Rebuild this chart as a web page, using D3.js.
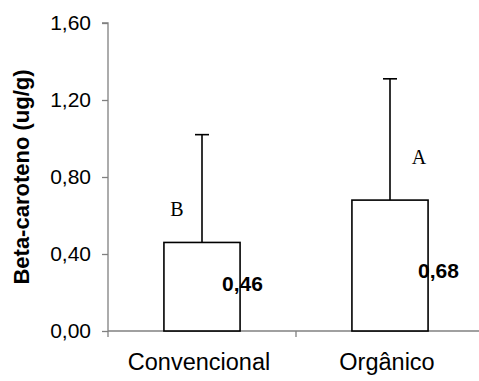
<!DOCTYPE html>
<html>
<head>
<meta charset="utf-8">
<script src="https://cdn.jsdelivr.net/npm/d3@7"></script>
<style>
  body { margin: 0; background: #fff; }
  svg { display: block; font-family: "Liberation Sans", Arial, sans-serif; }
</style>
</head>
<body>
<div id="chart"></div>
<script>
// data
const categories = ["Convencional", "Orgânico"];
const means = [0.46, 0.68];
const sds = [0.56, 0.63];
const letters = ["B", "A"];
const yTicks = [0, 0.4, 0.8, 1.2, 1.6];

const width = 479, height = 381;
const margin = {top: 23, right: -5, bottom: 50, left: 108};

const svg = d3.select("#chart").append("svg")
    .attr("width", width)
    .attr("height", height);

const fmt = v => d3.format(".2f")(v).replace(".", ",");

const x = d3.scaleBand()
    .domain(categories)
    .range([margin.left, width - margin.right])
    .padding(0);

const y = d3.scaleLinear()
    .domain([0, 1.6])
    .range([height - margin.bottom, margin.top]);

const barW = x.bandwidth() * 0.405;
const cx = d => x(d) + x.bandwidth() / 2;

// y axis
const yAxis = svg.append("g")
    .attr("transform", "translate(" + margin.left + ",0)")
    .call(d3.axisLeft(y).tickValues(yTicks).tickFormat(fmt).tickSize(6).tickPadding(11));
yAxis.selectAll("path, line").attr("stroke", "#808080").attr("stroke-width", 1.3);
yAxis.selectAll("text").style("font-size", "21px").attr("fill", "#000");
yAxis.select(".domain").attr("d", "M-6," + y(1.6) + "H0V" + y(0));

// x axis with ticks between categories
const bounds = [margin.left, margin.left + x.bandwidth(), margin.left + 2 * x.bandwidth()];
const xg = svg.append("g");
xg.append("line")
    .attr("x1", margin.left).attr("x2", width)
    .attr("y1", y(0)).attr("y2", y(0))
    .attr("stroke", "#808080").attr("stroke-width", 1.3);
xg.selectAll(".tk").data(bounds).enter().append("line")
    .attr("x1", d => d).attr("x2", d => d)
    .attr("y1", y(0)).attr("y2", y(0) + 6)
    .attr("stroke", "#808080").attr("stroke-width", 1.3);
xg.selectAll(".cat").data(categories).enter().append("text")
    .attr("x", d => cx(d) - 3)
    .attr("y", y(0) + 39)
    .attr("text-anchor", "middle")
    .style("font-size", "23.5px")
    .text(d => d);

// y title
svg.append("text")
    .attr("transform", "translate(29," + ((y(0) + y(1.6)) / 2) + ") rotate(-90)")
    .attr("text-anchor", "middle")
    .style("font-size", "22px")
    .style("font-weight", "bold")
    .text("Beta-caroteno (ug/g)");

// error bars
const eb = svg.selectAll(".err").data(categories).enter().append("g");
eb.append("line")
    .attr("x1", d => cx(d)).attr("x2", d => cx(d))
    .attr("y1", (d, i) => y(means[i])).attr("y2", (d, i) => y(means[i] + sds[i]))
    .attr("stroke", "#000").attr("stroke-width", 1.6);
eb.append("line")
    .attr("x1", d => cx(d) - 7).attr("x2", d => cx(d) + 7)
    .attr("y1", (d, i) => y(means[i] + sds[i])).attr("y2", (d, i) => y(means[i] + sds[i]))
    .attr("stroke", "#000").attr("stroke-width", 1.6);

// bars
svg.selectAll(".bar").data(categories).enter().append("rect")
    .attr("x", d => cx(d) - barW / 2)
    .attr("y", (d, i) => y(means[i]))
    .attr("width", barW)
    .attr("height", (d, i) => y(0) - y(means[i]))
    .attr("fill", "#fff")
    .attr("stroke", "#000")
    .attr("stroke-width", 1.6);

// value labels
const valDx = [20, 28];
const valY = [0.21, 0.275];
svg.selectAll(".val").data(categories).enter().append("text")
    .attr("x", (d, i) => cx(d) + valDx[i])
    .attr("y", (d, i) => y(valY[i]))
    .style("font-size", "21px")
    .style("font-weight", "bold")
    .text((d, i) => fmt(means[i]));

// significance letters
const letDx = [-25, 29];
const letY = [0.60, 0.87];
svg.selectAll(".let").data(categories).enter().append("text")
    .attr("x", (d, i) => cx(d) + letDx[i])
    .attr("y", (d, i) => y(letY[i]))
    .attr("text-anchor", "middle")
    .style("font-family", "'Liberation Serif', 'Times New Roman', serif")
    .style("font-size", "20px")
    .text((d, i) => letters[i]);
</script>
</body>
</html>
